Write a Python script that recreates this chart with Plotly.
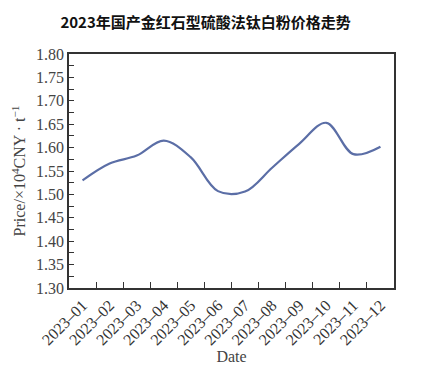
import plotly.graph_objects as go

months = ["2023–01", "2023–02", "2023–03", "2023–04", "2023–05", "2023–06",
          "2023–07", "2023–08", "2023–09", "2023–10", "2023–11", "2023–12"]
price = [1.530, 1.566, 1.583, 1.615, 1.579, 1.507,
         1.506, 1.557, 1.608, 1.653, 1.586, 1.602]
y_ticks = [1.30, 1.35, 1.40, 1.45, 1.50, 1.55, 1.60, 1.65, 1.70, 1.75, 1.80]

serif = "Liberation Serif, Times New Roman, serif"

fig = go.Figure()
fig.add_trace(go.Scatter(
    x=months, y=price, mode="lines",
    line=dict(color="#5b6ea6", width=2.2, shape="spline", smoothing=1.0),
    showlegend=False, hoverinfo="skip",
))

fig.update_layout(
    width=424, height=374,
    margin=dict(l=69, r=30, t=54, b=86),
    paper_bgcolor="white", plot_bgcolor="white",
    title=dict(
        text="<b>2023年国产金红石型硫酸法钛白粉价格走势</b>",
        x=0.485, xanchor="center", y=0.94, yanchor="middle",
        font=dict(family="Noto Sans CJK SC", size=15, color="#111111"),
    ),
)

fig.update_xaxes(
    type="category", range=[-0.5, 11.5], automargin=False,
    tickson="boundaries", ticks="inside", ticklen=6, tickwidth=1.2, tickcolor="#333",
    tickangle=-45,
    tickfont=dict(family=serif, size=16, color="#333"),
    showline=True, linecolor="#333", linewidth=1.5, mirror=True,
    showgrid=False, zeroline=False,
    title=dict(text="Date", font=dict(family=serif, size=16, color="#444"), standoff=2),
)

fig.update_yaxes(
    range=[1.30, 1.80], tickvals=y_ticks, tickformat=".2f", automargin=False,
    ticks="inside", ticklen=5, tickwidth=1.2, tickcolor="#333",
    minor=dict(dtick=0.025, tick0=1.30, ticks="inside", ticklen=5, tickwidth=1.2, tickcolor="#333"),
    tickfont=dict(family=serif, size=16, color="#444"),
    showline=True, linecolor="#333", linewidth=1.5, mirror=True,
    showgrid=False, zeroline=False,
    title=dict(text="Price/×10<sup>4</sup>CNY · t<sup>−1</sup>",
               font=dict(family=serif, size=16, color="#444"), standoff=6),
)

fig.write_html("out.html")
